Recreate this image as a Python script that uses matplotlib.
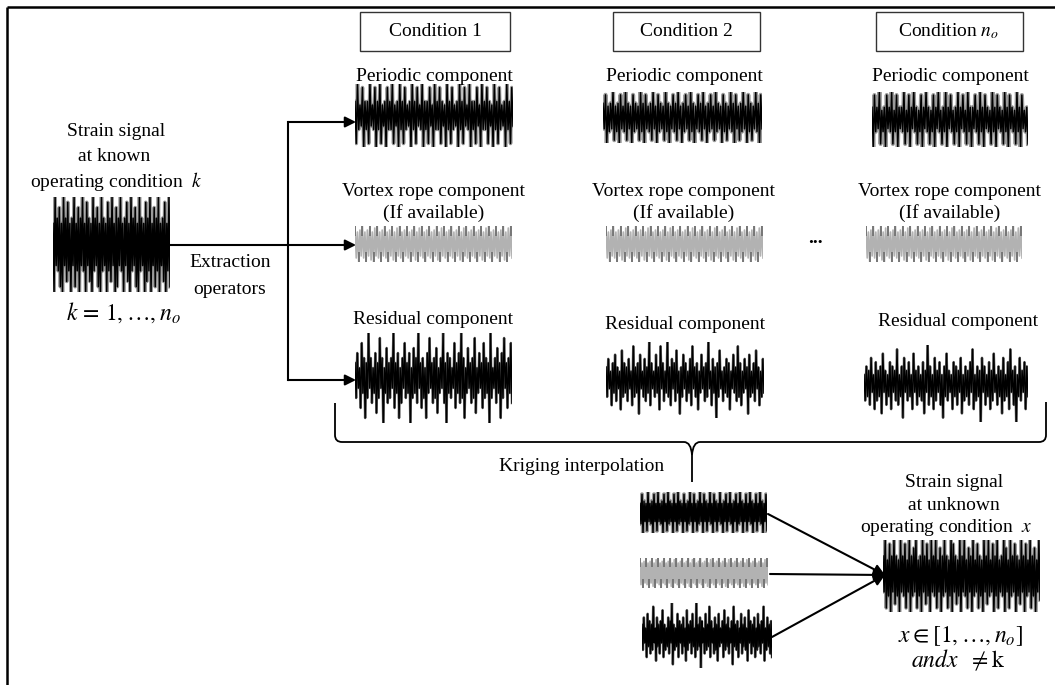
import numpy as np
import matplotlib
matplotlib.use("Agg")
import matplotlib.pyplot as plt
from matplotlib.patches import Rectangle, PathPatch
from matplotlib.path import Path

# ---------------- data (amplitude levels, 0..9) ----------------
SK_UP = [4,9,5,7,4,9,5,8, 4,5,9,4,7,5,9,4, 8,5,4,9,5,7,4,9, 5,4,8,5,9,4,7,5,
         9,4,5,8,4,9,5,7, 4,9,5,4,8,5,9,4, 7,5,9,4,5,8,4,9]
SK_LO = [9,4,5,8,9,4,7,5, 9,4,8,5,9,4,5,9, 4,7,9,5,4,8,9,5, 4,9,5,7,4,9,8,4,
         5,9,4,7,9,5,4,8, 9,5,4,9,7,5,9,4, 8,5,9,4,7,9,5,8]

P1_UP = [4,9,3,8,4,4,9,3, 8,4,9,3,4,8,4,9, 3,4,9,4,8,3,4,9, 4,8,3,9,4,4,8,3,
         9,4,8,4,3,9,4,8, 3,4,9,4,8,3,9,4, 4,8,3,9,4,8,4,3, 9,4,8,3,4,9,4,8]
P1_LO = [8,4,3,9,4,8,3,4, 9,4,8,3,9,4,4,8, 3,9,4,8,4,3,9,4, 8,3,4,9,4,8,3,9,
         4,4,8,3,9,4,8,4, 3,9,4,8,3,4,9,4, 8,3,9,4,4,8,3,9, 4,8,4,3,9,4,8,3]
P2_UP = [5,8,4,5,9,4,5,8, 4,9,5,4,8,5,4,9, 5,8,4,5,9,4,8,5, 4,9,5,4,8,5,9,4,
         5,8,4,9,5,4,8,5, 9,4,5,8,4,9,5,4, 8,5,4,9,5,8,4,5, 9,4,8,5,4,9,5,8]
P2_LO = [4,9,5,4,8,5,9,4, 5,8,4,9,5,4,8,5, 9,4,5,8,4,9,5,4, 8,5,9,4,5,8,4,9,
         5,4,8,5,9,4,5,8, 4,9,5,4,8,5,4,9, 5,8,4,5,9,4,8,5, 4,9,5,8,4,5,9,4]
PN_UP = [4,8,4,9,3,4,8,4, 9,3,8,4,4,9,3,8, 4,9,4,3,8,4,9,4, 3,8,4,9,3,4,9,4,
         8,3,4,9,4,8,3,9, 4,4,8,3,9,4,8,4, 3,9,4,8,4,3,9,4, 8,4,3,9,4,8,3,4]
PN_LO = [9,4,3,8,4,9,3,4, 8,4,9,3,4,8,4,9, 3,4,8,4,9,3,4,8, 4,9,3,4,8,4,9,3,
         4,8,4,9,3,4,8,4, 9,3,4,8,4,9,3,4, 8,4,9,3,4,8,4,9, 3,4,8,4,9,3,4,8]
PI_UP = [4,8,5,4,9,4,5,8, 4,9,4,5,8,4,9,5, 4,8,4,9,5,4,8,4, 5,9,4,8,4,5,9,4,
         8,5,4,9,4,8,5,4, 9,4,5,8,4,9,4,5, 8,4,9,5,4,8,4,9, 5,4,8,4,9,5,4,8]
PI_LO = [5,9,4,8,4,5,9,4, 8,4,5,9,4,8,5,4, 9,4,8,5,4,9,4,8, 5,4,9,4,8,5,4,9,
         4,8,4,5,9,4,8,4, 5,9,4,8,4,5,9,4, 8,5,4,9,4,8,4,5, 9,4,8,4,5,9,4,8]

V_UP = [9,6,7,9,6,7,9,6, 8,9,6,7,9,6,7,9, 6,8,9,6,7,9,6,7, 9,6,8,9,6,7,9,6,
        7,9,6,8,9,6,7,9, 6,7,9,6,8,9,6,7, 9,6,7,9,6,8,9,6, 7,9,6,7,9,6,8,9]
V_LO = [7,9,6,7,9,6,8,9, 6,7,9,6,7,9,6,8, 9,6,7,9,6,7,9,6, 8,9,6,7,9,6,7,9,
        6,8,9,6,7,9,6,7, 9,6,8,9,6,7,9,6, 7,9,6,8,9,6,7,9, 6,7,9,6,8,9,6,7]

R1_UP = [3,5,2,7,4,3,9,4,2,5, 3,8,4,2,6,3,4,9,3,5, 2,4,7,3,5,2,6,4,9,3, 4,2,5,8,3,4,6,2,4,9,
         3,5,4,2,7,3,5,9,4,2, 6,3,4,8,2,5,3,7,4,3, 9,2,4,6,3,5,8,3,4,7]
R1_LO = [4,2,6,3,8,4,2,5,3,7, 4,2,9,3,5,4,2,6,3,8, 5,2,4,3,9,4,3,5,2,6, 4,8,3,2,5,4,7,3,2,5,
         9,3,4,2,6,3,5,4,8,3, 2,5,4,7,3,2,6,4,3,9, 4,2,5,3,8,4,2,6,3,5]
R2_UP = [3,5,2,4,6,3,2,7,4,3, 5,2,8,3,4,6,2,5,3,9, 4,2,6,3,8,4,2,9,3,5, 4,7,2,3,6,4,2,5,8,3,
         4,2,6,3,4,9,2,5,3,4, 7,2,3,5,4,2,6,3,8,4, 2,5,3,6,2,4,7,3,2,5]
R2_LO = [4,2,6,3,5,2,7,4,3,5, 2,6,4,3,8,2,4,5,3,6, 2,4,3,7,2,5,3,4,6,2, 5,3,8,4,2,5,3,6,2,4,
         7,3,2,5,4,2,6,3,9,4, 2,5,3,4,7,2,3,5,4,6, 3,2,8,4,3,5,2,6,4,3]
RN_UP = [2,4,3,6,2,5,3,4,7,3, 2,5,4,3,8,2,4,6,3,5, 2,7,3,4,2,5,3,9,4,2, 6,3,5,2,4,7,3,2,5,4,
         3,6,2,4,3,5,8,2,4,3, 6,4,2,5,3,7,2,4,3,6, 2,5,8,3,4,2,6,3,5,4]
RN_LO = [4,3,5,2,6,4,3,7,2,5, 3,6,2,4,5,3,8,2,4,3, 6,2,5,3,4,7,2,5,3,6, 4,2,5,8,3,4,2,6,3,5,
         2,7,4,3,5,2,6,4,3,9, 2,5,3,6,4,2,5,3,7,4, 3,6,2,5,9,3,4,2,6,3]
RI_UP = [3,5,2,6,4,3,8,2,5,3, 4,7,3,2,5,4,9,3,2,6, 4,3,5,2,7,3,4,6,2,9, 3,5,4,2,6,3,8,4,2,5,
         3,6,2,4,7,3,5,2,4,8, 3,4,2,6,3,5,2,7,4,3, 5,2,6,3,4,8,2,5,3,4]
RI_LO = [4,2,6,3,5,4,2,7,3,5, 2,6,4,3,5,2,8,4,3,6, 2,5,3,7,4,2,5,3,6,4, 3,9,2,5,4,3,6,2,5,4,
         7,3,2,6,4,3,5,2,8,3, 4,6,2,5,3,4,7,2,5,3, 6,4,3,5,2,7,4,3,5,6]

BIG_UP = [5,9,4,8,5,9,5,4, 9,5,8,4,9,5,7,9, 4,5,9,5,8,4,9,5, 9,4,7,5,9,5,4,9, 8,5,4,9,5,9,4,7,
          5,9,4,8,5,4,9,5, 9,4,8,5,9,4,5,9, 7,4,9,5,8,5,4,9, 5,8,4,9,5,7,4,9]
BIG_LO = [4,8,5,9,4,7,5,9, 4,5,8,4,9,5,4,8, 5,9,4,7,5,9,4,5, 8,4,9,5,4,8,5,9, 4,7,5,9,4,5,8,4,
          9,5,4,8,5,9,4,7, 5,4,9,5,8,4,5,9, 4,8,5,4,9,5,7,4, 9,5,4,8,5,9,4,6]

CONDITIONS = ["Condition 1", "Condition 2", r"Condition $n_o$"]

# ---------------- figure ----------------
W, H = 1055, 685
plt.rcParams['font.family'] = ['Liberation Serif', 'DejaVu Serif']
plt.rcParams['mathtext.fontset'] = 'stix'
FS = 14

fig = plt.figure(figsize=(W / 100, H / 100), dpi=100, facecolor='white')
ax = fig.add_axes([0, 0, 1, 1], zorder=5)
ax.set_xlim(0, W)
ax.set_ylim(H, 0)
ax.axis('off')
ax.patch.set_visible(False)


def new_axes(x0, y0, x1, y1, n):
    a = fig.add_axes([x0 / W, 1 - y1 / H, (x1 - x0) / W, (y1 - y0) / H], zorder=2)
    a.set_xlim(0, 2 * n - 1)
    a.set_ylim(-1, 1)
    a.axis('off')
    a.patch.set_visible(False)
    return a


def zigzag(up, lo):
    n = min(len(up), len(lo))
    y = np.empty(2 * n)
    y[0::2] = np.asarray(up[:n], float) / 9.0
    y[1::2] = -np.asarray(lo[:n], float) / 9.0
    return np.arange(2 * n), y, n


def signal(x0, y0, x1, y1, up, lo, color='black', lw=1.1, blur=None, blur_lw=2.6):
    x, y, n = zigzag(up, lo)
    a = new_axes(x0, y0, x1, y1, n)
    if blur is not None:
        a.plot(x, y, color=blur, lw=blur_lw)
    a.plot(x, y, color=color, lw=lw)


def vortex(x0, y0, x1, y1, up, lo):
    x, y, n = zigzag(up, lo)
    a = new_axes(x0, y0, x1, y1, n)
    a.plot(x, y, color='#b2b2b2', lw=1.2)
    up_a = np.asarray(up[:n], float) / 9.0
    lo_a = np.asarray(lo[:n], float) / 9.0
    mu = up_a >= 0.99
    ml = lo_a >= 0.99
    a.vlines(x[0::2][mu], 0.42, up_a[mu], color='#6c6c6c', lw=1.2)
    a.vlines(x[1::2][ml], -lo_a[ml], -0.42, color='#6c6c6c', lw=1.2)


# frame
ax.plot([7, W], [7, 7], color='black', lw=1.8, solid_capstyle='butt')
ax.plot([7, 7], [7, H], color='black', lw=1.8, solid_capstyle='butt')

# condition boxes
col_cx = [435, 686, 949]
box_x = [(360, 510), (613, 760), (876, 1023)]
for (bx0, bx1), cx, lab in zip(box_x, col_cx, CONDITIONS):
    ax.add_patch(Rectangle((bx0, 12), bx1 - bx0, 39, fill=False, ec='#333333', lw=1.0))
    ax.text(cx, 31, lab, ha='center', va='center', fontsize=FS)

# component labels
for cx in [434, 684, 950]:
    ax.text(cx, 76, "Periodic component", ha='center', va='center', fontsize=FS)
    ax.text(cx, 191, "Vortex rope component", ha='center', va='center', fontsize=FS)
    ax.text(cx, 213, "(If available)", ha='center', va='center', fontsize=FS)
ax.text(433, 319, "Residual component", ha='center', va='center', fontsize=FS)
ax.text(685, 324, "Residual component", ha='center', va='center', fontsize=FS)
ax.text(958, 321, "Residual component", ha='center', va='center', fontsize=FS)
ax.text(815, 238, "...", ha='center', va='center', fontsize=FS, fontweight='bold')

# left block
ax.text(116, 131, "Strain signal", ha='center', va='center', fontsize=FS)
ax.text(114, 156, "at known", ha='center', va='center', fontsize=FS)
ax.text(116, 181, r"operating condition  $k$", ha='center', va='center', fontsize=FS)
ax.text(123, 313, r"$k\, =\, 1, \ldots, n_o$", ha='center', va='center', fontsize=FS + 3)
ax.text(230, 262, "Extraction", ha='center', va='center', fontsize=FS)
ax.text(230, 289, "operators", ha='center', va='center', fontsize=FS)

# extraction arrows
ap = dict(arrowstyle='-|>', color='black', lw=1.5, mutation_scale=16, shrinkA=0, shrinkB=0)
ax.plot([288, 288], [122, 380], color='black', lw=1.5)
ax.plot([170, 288], [245, 245], color='black', lw=1.5)
for yy in [122, 245, 380]:
    ax.annotate('', xy=(356, yy), xytext=(288, yy), arrowprops=ap)

# brace
b1 = Path([(335, 403), (335, 435), (335, 442), (342, 442), (684, 442), (691, 442), (692, 455), (692, 482)],
          [Path.MOVETO, Path.LINETO, Path.CURVE3, Path.CURVE3, Path.LINETO, Path.CURVE3, Path.CURVE3, Path.LINETO])
b2 = Path([(692, 455), (693, 442), (700, 442), (1039, 442), (1046, 442), (1046, 435), (1046, 402)],
          [Path.MOVETO, Path.CURVE3, Path.CURVE3, Path.LINETO, Path.CURVE3, Path.CURVE3, Path.LINETO])
for p in (b1, b2):
    ax.add_patch(PathPatch(p, fill=False, ec='black', lw=1.3))
ax.text(582, 466, "Kriging interpolation", ha='center', va='center', fontsize=FS)

# right block
ax.text(954, 482, "Strain signal", ha='center', va='center', fontsize=FS)
ax.text(954, 505, "at unknown", ha='center', va='center', fontsize=FS)
ax.text(946, 528, r"operating condition  $x$", ha='center', va='center', fontsize=FS)
ax.text(961, 636, r"$x \in [1, \ldots, n_o]$", ha='center', va='center', fontsize=FS + 3)
ax.text(958, 660, r"$andx\ \ \neq \mathrm{k}$", ha='center', va='center', fontsize=FS + 3)

# kriging arrows
for (sx, sy) in [(768, 514), (770, 574), (772, 637)]:
    ax.annotate('', xy=(885, 575), xytext=(sx, sy), arrowprops=ap)

# ---------------- signals ----------------
GR = '#9a9a9a'
signal(53, 197, 170, 292, SK_UP, SK_LO, blur=GR)
signal(355, 84, 513, 147, P1_UP, P1_LO, blur=GR)
signal(603, 92, 762, 143, P2_UP, P2_LO, blur=GR, blur_lw=3.0)
signal(872, 92, 1028, 147, PN_UP, PN_LO, blur=GR, blur_lw=3.0)

for (vx0, vx1) in [(355, 512), (606, 763), (866, 1022)]:
    vortex(vx0, 226, vx1, 262, V_UP, V_LO)

RG = '#6a6a6a'
signal(355, 333, 512, 423, R1_UP, R1_LO, lw=1.0, blur=RG, blur_lw=1.8)
signal(606, 342, 764, 418, R2_UP, R2_LO, lw=1.0, blur=RG, blur_lw=1.8)
signal(864, 345, 1028, 422, RN_UP, RN_LO, lw=1.0, blur=RG, blur_lw=1.8)

signal(640, 492, 767, 533, PI_UP, PI_LO, blur=GR, blur_lw=3.0)
vortex(640, 558, 768, 588, V_UP, V_LO)
signal(642, 603, 772, 668, RI_UP, RI_LO, lw=1.0, blur=RG, blur_lw=1.8)

signal(883, 540, 1040, 612, BIG_UP, BIG_LO, blur=GR)

fig.savefig("out.png", dpi=100, facecolor='white')
